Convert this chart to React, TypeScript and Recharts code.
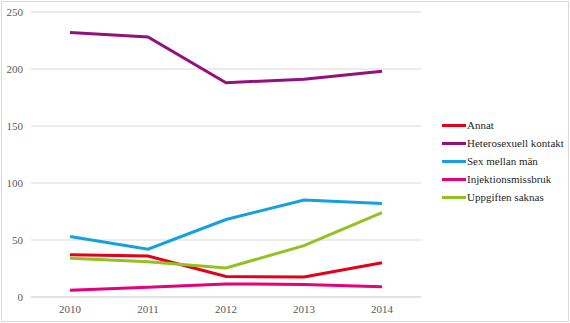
import { LineChart, Line, XAxis, YAxis, CartesianGrid } from "recharts";

const YEARS = ["2010", "2011", "2012", "2013", "2014"];
const ANNAT = [37, 36, 18, 17.5, 30];
const HETERO = [232, 228, 188, 191, 198];
const MSM = [53, 42, 68, 85, 82];
const INJEKTION = [6, 8.5, 11.5, 11, 9];
const SAKNAS = [34, 31, 25.5, 45, 74];
const Y_TICKS = [0, 50, 100, 150, 200, 250];

const SERIES = [
  { key: "Annat", values: ANNAT, color: "#e2001a" },
  { key: "Heterosexuell kontakt", values: HETERO, color: "#93117e" },
  { key: "Sex mellan män", values: MSM, color: "#14a0e2" },
  { key: "Injektionsmissbruk", values: INJEKTION, color: "#e6007e" },
  { key: "Uppgiften saknas", values: SAKNAS, color: "#95c11f" },
];

const data = YEARS.map((year, i) => {
  const row: Record<string, string | number> = { year };
  SERIES.forEach((s) => (row[s.key] = s.values[i]));
  return row;
});

const FONT = "Times New Roman, Liberation Serif, serif";

function LegendBox() {
  return (
    <div
      style={{
        position: "absolute",
        left: 442,
        top: 116,
        fontFamily: FONT,
        fontSize: 11,
        color: "#262626",
      }}
    >
      {SERIES.map((s) => (
        <div key={s.key} style={{ display: "flex", alignItems: "center", height: 18 }}>
          <span style={{ display: "inline-block", width: 24, height: 3, background: s.color, marginRight: 1 }} />
          {s.key}
        </div>
      ))}
    </div>
  );
}

export default function App() {
  return (
    <div style={{ position: "absolute", left: 0, top: 0, width: 570, height: 323, background: "#fff" }}>
      <div
        style={{
          position: "absolute",
          left: 1,
          top: 1,
          width: 566,
          height: 319,
          border: "1px solid #d9d9d9",
        }}
      />
      <LineChart width={570} height={323} data={data} margin={{ top: 12, right: 149, bottom: 0, left: 0 }}>
        <CartesianGrid vertical={false} stroke="#d9d9d9" />
        <XAxis
          dataKey="year"
          axisLine={{ stroke: "#d9d9d9" }}
          tickLine={false}
          padding={{ left: 39, right: 39 }}
          height={26}
          tick={{ fill: "#595959", fontSize: 11, fontFamily: FONT }}
        />
        <YAxis
          width={31}
          domain={[0, 250]}
          ticks={Y_TICKS}
          axisLine={false}
          tickLine={false}
          tick={{ fill: "#595959", fontSize: 11, fontFamily: FONT }}
        />
        {SERIES.map((s) => (
          <Line
            key={s.key}
            dataKey={s.key}
            stroke={s.color}
            strokeWidth={3}
            dot={false}
            isAnimationActive={false}
          />
        ))}
      </LineChart>
      <LegendBox />
    </div>
  );
}
